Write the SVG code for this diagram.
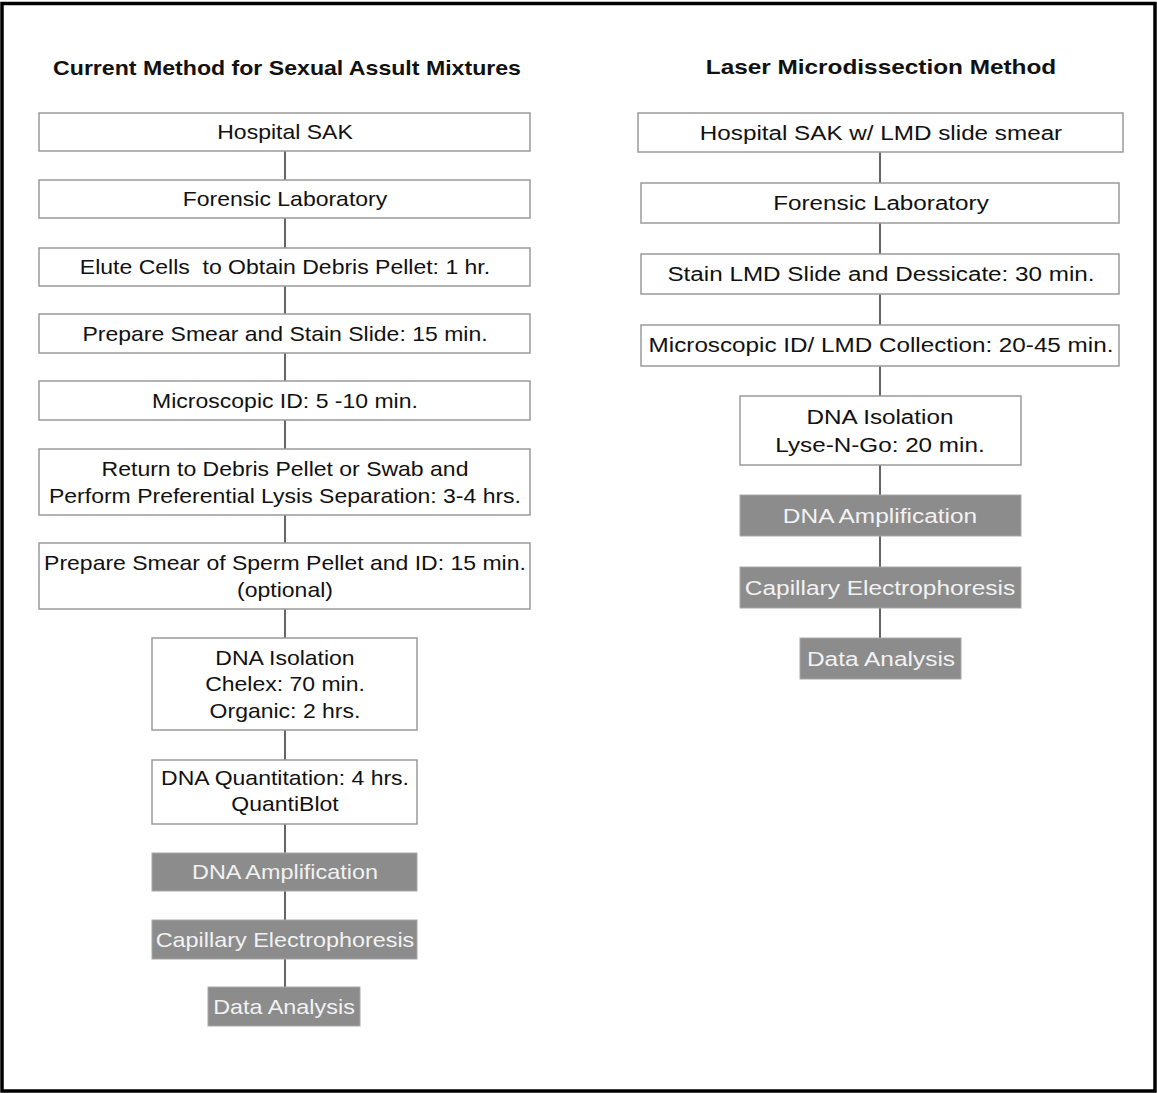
<svg xmlns="http://www.w3.org/2000/svg" width="1157" height="1093" viewBox="0 0 1157 1093">
<style>
.b{fill:#fff;stroke:#9a9a9a;stroke-width:1.5}
.g{fill:#8c8c8c;stroke:#a8a8a8;stroke-width:1}
text{font-family:"Liberation Sans",Arial,sans-serif;text-anchor:middle}
.L text{font-size:20px}
.R text{font-size:21px}
.t{fill:#111}
.w{fill:#f2f2f2}
.h{font-weight:bold;fill:#111}
.c{stroke:#333;stroke-width:1.5;fill:none}
</style>
<rect x="0" y="0" width="1157" height="1093" fill="#fff"/>
<rect x="2" y="3.5" width="1153" height="1087.5" fill="none" stroke="#000" stroke-width="3.5"/>
<g id="connectors">
<path class="c" d="M285 151V180M285 218V248M285 286V314M285 353V381M285 420V449M285 515V543M285 609V638M285 730V760M285 824V853M285 891V920M285 959V987"/>
<path class="c" d="M880 152V183M880 223V254M880 294V325M880 366V396M880 465V495M880 536V567M880 608V638"/>
</g>
<g class="L">
<g id="title-left"><text class="h" transform="translate(287 0) scale(1.156 1)" x="0" y="75">Current Method for Sexual Assult Mixtures</text></g>
<g id="l1"><rect class="b" x="39" y="113" width="491" height="38"/><text class="t" transform="translate(285 0) scale(1.15 1)" x="0" y="139">Hospital SAK</text></g>
<g id="l2"><rect class="b" x="39" y="180" width="491" height="38"/><text class="t" transform="translate(285 0) scale(1.15 1)" x="0" y="206">Forensic Laboratory</text></g>
<g id="l3"><rect class="b" x="39" y="248" width="491" height="38"/><text class="t" transform="translate(285 0) scale(1.15 1)" x="0" y="274" xml:space="preserve">Elute Cells  to Obtain Debris Pellet: 1 hr.</text></g>
<g id="l4"><rect class="b" x="39" y="314" width="491" height="39"/><text class="t" transform="translate(285 0) scale(1.15 1)" x="0" y="341">Prepare Smear and Stain Slide: 15 min.</text></g>
<g id="l5"><rect class="b" x="39" y="381" width="491" height="39"/><text class="t" transform="translate(285 0) scale(1.15 1)" x="0" y="408">Microscopic ID: 5 -10 min.</text></g>
<g id="l6"><rect class="b" x="39" y="449" width="491" height="66"/><text class="t" transform="translate(285 0) scale(1.15 1)" x="0" y="476">Return to Debris Pellet or Swab and</text><text class="t" transform="translate(285 0) scale(1.15 1)" x="0" y="503">Perform Preferential Lysis Separation: 3-4 hrs.</text></g>
<g id="l7"><rect class="b" x="39" y="543" width="491" height="66"/><text class="t" transform="translate(285 0) scale(1.15 1)" x="0" y="570">Prepare Smear of Sperm Pellet and ID: 15 min.</text><text class="t" transform="translate(285 0) scale(1.15 1)" x="0" y="597">(optional)</text></g>
<g id="l8"><rect class="b" x="152" y="638" width="265" height="92"/><text class="t" transform="translate(285 0) scale(1.15 1)" x="0" y="665">DNA Isolation</text><text class="t" transform="translate(285 0) scale(1.15 1)" x="0" y="691">Chelex: 70 min.</text><text class="t" transform="translate(285 0) scale(1.15 1)" x="0" y="718">Organic: 2 hrs.</text></g>
<g id="l9"><rect class="b" x="152" y="760" width="265" height="64"/><text class="t" transform="translate(285 0) scale(1.15 1)" x="0" y="785">DNA Quantitation: 4 hrs.</text><text class="t" transform="translate(285 0) scale(1.15 1)" x="0" y="811">QuantiBlot</text></g>
<g id="l10"><rect class="g" x="152" y="853" width="265" height="38"/><text class="w" transform="translate(285 0) scale(1.17 1)" x="0" y="879">DNA Amplification</text></g>
<g id="l11"><rect class="g" x="152" y="920" width="265" height="39"/><text class="w" transform="translate(285 0) scale(1.17 1)" x="0" y="947">Capillary Electrophoresis</text></g>
<g id="l12"><rect class="g" x="208" y="987" width="152" height="39"/><text class="w" transform="translate(284 0) scale(1.17 1)" x="0" y="1014">Data Analysis</text></g>
</g>
<g class="R">
<g id="title-right"><text class="h" transform="translate(881 0) scale(1.16 1)" x="0" y="74">Laser Microdissection Method</text></g>
<g id="r1"><rect class="b" x="638" y="113" width="485" height="39"/><text class="t" transform="translate(881 0) scale(1.155 1)" x="0" y="140">Hospital SAK w/ LMD slide smear</text></g>
<g id="r2"><rect class="b" x="641" y="183" width="478" height="40"/><text class="t" transform="translate(881 0) scale(1.155 1)" x="0" y="210">Forensic Laboratory</text></g>
<g id="r3"><rect class="b" x="641" y="254" width="478" height="40"/><text class="t" transform="translate(881 0) scale(1.155 1)" x="0" y="281">Stain LMD Slide and Dessicate: 30 min.</text></g>
<g id="r4"><rect class="b" x="641" y="325" width="478" height="41"/><text class="t" transform="translate(881 0) scale(1.155 1)" x="0" y="352">Microscopic ID/ LMD Collection: 20-45 min.</text></g>
<g id="r5"><rect class="b" x="740" y="396" width="281" height="69"/><text class="t" transform="translate(880 0) scale(1.155 1)" x="0" y="424">DNA Isolation</text><text class="t" transform="translate(880 0) scale(1.155 1)" x="0" y="452">Lyse-N-Go: 20 min.</text></g>
<g id="r6"><rect class="g" x="740" y="495" width="281" height="41"/><text class="w" transform="translate(880 0) scale(1.165 1)" x="0" y="523">DNA Amplification</text></g>
<g id="r7"><rect class="g" x="740" y="567" width="281" height="41"/><text class="w" transform="translate(880 0) scale(1.165 1)" x="0" y="595">Capillary Electrophoresis</text></g>
<g id="r8"><rect class="g" x="800" y="638" width="161" height="41"/><text class="w" transform="translate(881 0) scale(1.165 1)" x="0" y="666">Data Analysis</text></g>
</g>
</svg>
